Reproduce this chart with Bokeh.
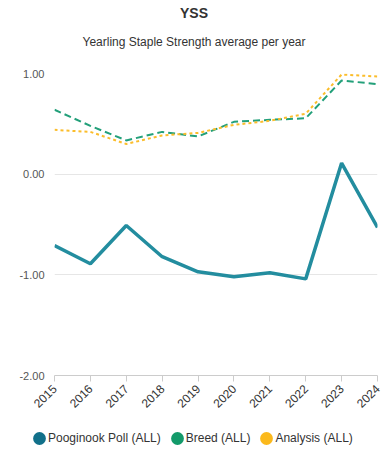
import math
from bokeh.plotting import figure
from bokeh.models import (FixedTicker, NumeralTickFormatter, Legend, LegendItem,
                          Range1d, ColumnDataSource)
from bokeh.core.properties import value
from bokeh.embed import file_html
from bokeh.resources import INLINE

years = [2015, 2016, 2017, 2018, 2019, 2020, 2021, 2022, 2023, 2024]
pooginook = [-0.71, -0.89, -0.51, -0.82, -0.97, -1.02, -0.98, -1.04, 0.11, -0.53]
breed = [0.64, 0.48, 0.335, 0.42, 0.375, 0.52, 0.54, 0.555, 0.93, 0.895]
analysis = [0.44, 0.42, 0.30, 0.385, 0.41, 0.49, 0.53, 0.60, 0.99, 0.97]
y_ticks = [1, 0, -1, -2]
series_names = ["Pooginook Poll (ALL)", "Breed (ALL)", "Analysis (ALL)"]
legend_colors = ["#11708a", "#139a6a", "#fbb91c"]
title_text = "YSS"
subtitle_text = "Yearling Staple Strength average per year"

FONT = "Liberation Sans"
W = 387


def strip(height):
    f = figure(width=W, height=height, output_backend="svg", toolbar_location=None,
               x_range=Range1d(0, W), y_range=Range1d(height, 0),
               min_border_left=0, min_border_right=0, min_border_top=0,
               min_border_bottom=0, outline_line_color=None)
    f.axis.visible = False
    f.grid.visible = False
    return f


# title strip (pixel coordinates)
tf = strip(63)
tf.text(x=[193.5], y=[12.5], text=[title_text], text_align="center",
        text_baseline="middle", text_font=value(FONT), text_font_size="14px",
        text_font_style="bold", text_color="#333333")
tf.text(x=[193.5], y=[41], text=[subtitle_text], text_align="center",
        text_baseline="middle", text_font=value(FONT), text_font_size="12px",
        text_color="#333333")

# main chart
p = figure(width=W, height=351, output_backend="svg", toolbar_location=None,
           x_range=Range1d(2015, 2024), y_range=Range1d(-2, 1),
           min_border_left=54, min_border_right=10, min_border_top=10,
           min_border_bottom=37, outline_line_color=None)

src = ColumnDataSource(dict(x=years, p=pooginook, b=breed, a=analysis))
p.line("x", "b", source=src, line_color="#23a07a", line_width=2, line_dash="7 4")
p.line("x", "a", source=src, line_color="#fbbd2b", line_width=2, line_dash="3 3")
p.line("x", "p", source=src, line_color="#238d9f", line_width=3.5)

p.xaxis.ticker = FixedTicker(ticks=years)
p.xaxis.major_label_orientation = math.pi / 4
p.xaxis.axis_line_color = "#cccccc"
p.xaxis.axis_line_width = 1
p.xaxis.major_tick_line_color = "#cccccc"
p.xaxis.major_tick_out = 6
p.xaxis.major_tick_in = 0
p.xaxis.minor_tick_line_color = None
p.xaxis.major_label_text_font = FONT
p.xaxis.major_label_text_font_size = "12px"
p.xaxis.major_label_text_color = "#333333"

p.yaxis.ticker = FixedTicker(ticks=y_ticks)
p.yaxis.formatter = NumeralTickFormatter(format="0.00")
p.yaxis.axis_line_color = None
p.yaxis.major_tick_line_color = None
p.yaxis.minor_tick_line_color = None
p.yaxis.major_tick_out = 0
p.yaxis.major_tick_in = 0
p.yaxis.minor_tick_out = 0
p.yaxis.major_label_text_font = FONT
p.yaxis.major_label_text_font_size = "11px"
p.yaxis.major_label_text_color = "#555555"
p.yaxis.major_label_standoff = 10

p.xgrid.grid_line_color = None
p.ygrid.grid_line_color = "#e6e6e6"
p.ygrid.ticker = FixedTicker(ticks=y_ticks)

# legend strip
lf = strip(36)
items = []
for name, col in zip(series_names, legend_colors):
    r = lf.ellipse(x=[-50], y=[-50], width=10, height=10, fill_color=col,
                   line_color=None)
    items.append(LegendItem(label=name, renderers=[r]))
legend = Legend(items=items, orientation="horizontal", location=(31, 4),
                label_text_font=FONT, label_text_font_size="12px",
                label_text_color="#333333", glyph_width=16, glyph_height=16,
                label_standoff=1, spacing=8, padding=0, margin=0,
                border_line_color=None, background_fill_alpha=0)
lf.add_layout(legend, "center")

open("out.html", "w").write(file_html((tf, p, lf), INLINE))
